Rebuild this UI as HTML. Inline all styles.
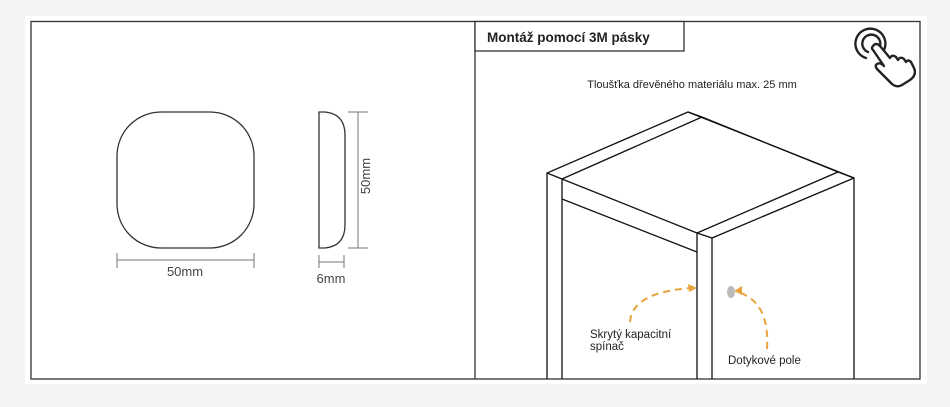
<!DOCTYPE html>
<html><head><meta charset="utf-8"><style>
body{margin:0;background:#f4f4f4;}
svg{display:block}
text{font-family:"Liberation Sans",sans-serif;}
</style></head><body>
<svg width="950" height="407" viewBox="0 0 950 407" xmlns="http://www.w3.org/2000/svg">
<rect x="0" y="0" width="950" height="407" fill="#f4f4f4"/>
<rect x="25" y="16" width="902" height="368" fill="#fff"/>
<rect x="31" y="21.5" width="889" height="357.5" fill="#fff" stroke="#333" stroke-width="1.3"/>
<line x1="475" y1="21.5" x2="475" y2="379" stroke="#333" stroke-width="1.3"/>
<!-- left -->
<rect x="117" y="112" width="137" height="136" rx="44" fill="none" stroke="#333" stroke-width="1.3"/>
<g stroke="#777" stroke-width="1">
<line x1="117" y1="260" x2="254" y2="260"/><line x1="117" y1="253" x2="117" y2="268"/><line x1="254" y1="253" x2="254" y2="268"/>
<line x1="358" y1="112" x2="358" y2="248"/><line x1="348" y1="112" x2="368" y2="112"/><line x1="348" y1="248" x2="368" y2="248"/>
<line x1="319" y1="262" x2="344" y2="262"/><line x1="319" y1="255" x2="319" y2="268"/><line x1="344" y1="255" x2="344" y2="268"/>
</g>
<path d="M319 112 H325 Q345 114 345 135 V225 Q345 246 325 248 H319 Z" fill="none" stroke="#333" stroke-width="1.3"/>
<text x="185" y="276" font-size="13" fill="#444" text-anchor="middle">50mm</text>
<text x="331" y="283" font-size="13" fill="#444" text-anchor="middle">6mm</text>
<text transform="translate(370,176) rotate(-90)" font-size="13" fill="#444" text-anchor="middle">50mm</text>
<!-- right -->
<rect x="475" y="21.5" width="209" height="29.5" fill="#fff" stroke="#333" stroke-width="1.3"/>
<text x="487" y="42" font-size="13.5" font-weight="bold" fill="#222">Montáž pomocí 3M pásky</text>
<text x="692" y="88" font-size="11" fill="#222" text-anchor="middle">Tloušťka dřevěného materiálu max. 25 mm</text>
<g fill="none" stroke="#111" stroke-width="1.3">
<polyline points="547,379 547,173 688,112 854,178 854,379"/>
<polyline points="547,173 562,179 697,233 712,238 854,178"/>
<line x1="562" y1="179" x2="702" y2="117"/>
<line x1="688" y1="112" x2="702" y2="117"/>
<line x1="702" y1="117" x2="838" y2="172"/>
<line x1="838" y1="172" x2="697" y2="233"/>
<line x1="838" y1="172" x2="854" y2="178"/>
<line x1="562" y1="179" x2="562" y2="379"/>
<line x1="562" y1="199" x2="697" y2="252"/>
<line x1="697" y1="233" x2="697" y2="379"/>
<line x1="712" y1="238" x2="712" y2="379"/>
</g>
<g fill="none" stroke="#e8a43a" stroke-width="2" stroke-dasharray="7,5">
<path d="M630 322 Q632 292 692 288"/>
<path d="M767 349 Q770 302 738 292"/>
</g>
<path d="M697 288 L688 284 L689 292 Z" fill="#e8a43a"/>
<path d="M734 291 L742 286 L742 295 Z" fill="#e8a43a"/>
<ellipse cx="731" cy="292" rx="4" ry="6" fill="#bbb"/>
<text x="590" y="338" font-size="11.5" fill="#222">Skrytý kapacitní</text>
<text x="590" y="350" font-size="11.5" fill="#222">spínač</text>
<text x="728" y="364" font-size="11.5" fill="#222">Dotykové pole</text>
<!-- hand icon -->
<g fill="none" stroke="#222" stroke-width="2.4" stroke-linecap="round" stroke-linejoin="round">
<path d="M884 50 A15 15 0 1 0 866 58"/>
<path d="M880 46 A9 9 0 1 0 868 52"/>
<path d="M873 46 Q876 42 880 46 L890 58 Q892 54 896 57 L898 60 Q900 56 904 59 L906 62 Q908 59 911 62 L914 68 Q917 75 910 80 L902 85 Q897 88 892 84 L878 70 Q874 66 877 64 Q880 62 884 66 L873 50 Q871 48 873 46 Z"/>
</g>
</svg>
</body></html>
